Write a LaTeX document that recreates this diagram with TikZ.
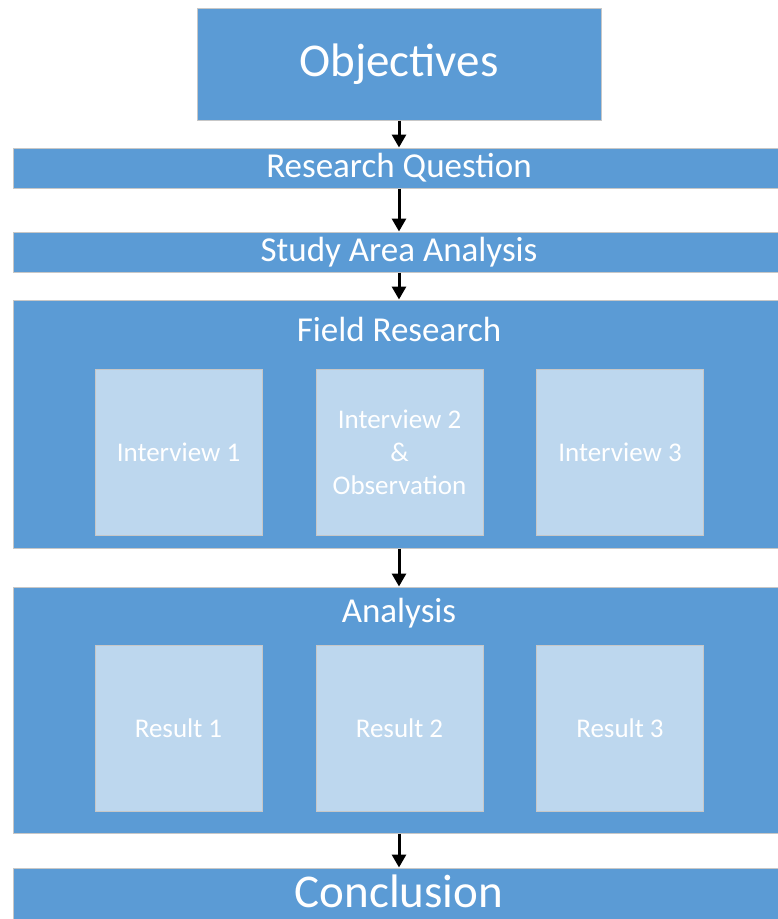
\documentclass[tikz,border=0pt]{standalone}
\usepackage{fontspec}
\setmainfont{Carlito}
\usetikzlibrary{arrows.meta}
\definecolor{stepblue}{HTML}{5B9BD5}
\definecolor{paleblue}{HTML}{BDD7EE}
\tikzset{
  bigbox/.style={draw=black!22, line width=1pt, fill=stepblue, inner sep=0pt, text=white},
  subbox/.style={draw=black!22, line width=1pt, fill=paleblue, inner sep=0pt,
    minimum width=167pt, minimum height=166pt, text=white, align=center,
    font=\fontsize{27}{33}\selectfont},
  boxlabel/.style={text=white, inner sep=0pt},
  flow/.style={-{Triangle[width=14pt,length=13pt]}, line width=3pt, black}
}
\begin{document}
\begin{tikzpicture}[x=1pt, y=-1pt]
                        \useasboundingbox (0,0) rectangle (778,919);
                        \clip (0,0) rectangle (778,919);
                        \node[bigbox, minimum width=404pt, minimum height=112pt,
                          font=\fontsize{47}{52}\selectfont] (obj) at (399,64) {Objectives};
                        \node[bigbox, minimum width=772pt, minimum height=40pt,
                          font=\fontsize{35}{38}\selectfont] (rq) at (399,168) {Research Question};
                        \node[bigbox, minimum width=772pt, minimum height=40pt,
                          font=\fontsize{35}{38}\selectfont] (sa) at (399,252) {Study Area Analysis};
                        \node[bigbox, minimum width=772pt, minimum height=248pt] (field) at (399,424) {};
                        \node[boxlabel, font=\fontsize{35}{38}\selectfont] (fieldlbl) at (399,329) {Field Research};
                        \node[subbox] (int1) at (178.5,452) {Interview 1};
                        \node[subbox] (int2) at (399.5,452) {Interview 2\\\&\\Observation};
                        \node[subbox] (int3) at (620,452) {Interview 3};
                        \node[bigbox, minimum width=772pt, minimum height=246pt] (ana) at (399,710) {};
                        \node[boxlabel, font=\fontsize{35}{38}\selectfont] (analbl) at (399,613) {Analysis};
                        \node[subbox] (res1) at (178.5,728) {Result 1};
                        \node[subbox] (res2) at (399.5,728) {Result 2};
                        \node[subbox] (res3) at (620,728) {Result 3};
                        \node[bigbox, minimum width=772pt, minimum height=102pt] (conc) at (399,919) {};
                        \node[boxlabel, font=\fontsize{47}{52}\selectfont] (conclbl) at (399,891) {Conclusion};
                        \path[flow]
                        (obj) edge (rq)
                        (rq) edge (sa)
                        (sa) edge (field)
                        (field) edge (ana)
                        (ana) edge (conc);
                        \end{tikzpicture}
\end{document}
